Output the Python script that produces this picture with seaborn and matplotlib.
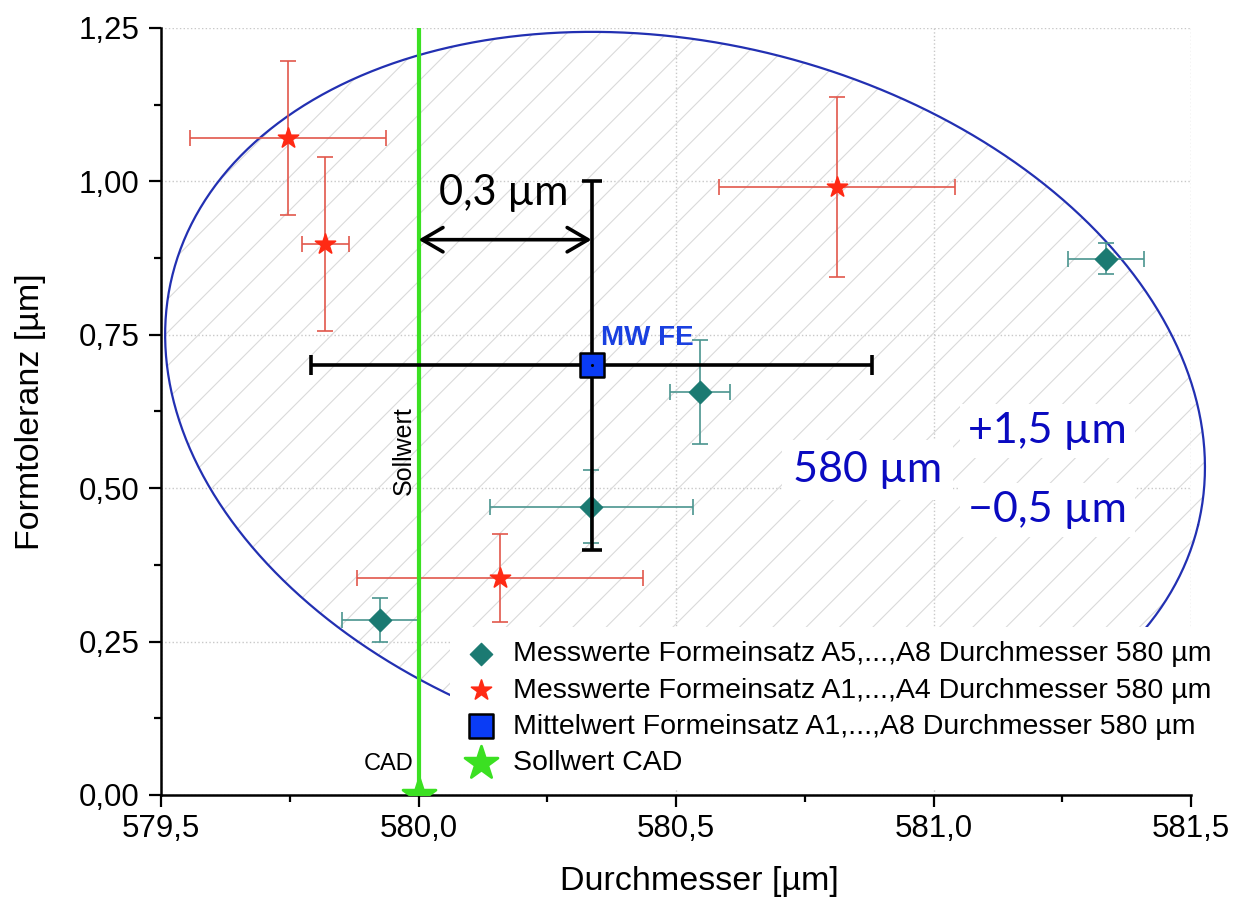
import numpy as np
import matplotlib
matplotlib.use("Agg")
import matplotlib.pyplot as plt
import seaborn as sns
from matplotlib.ticker import MultipleLocator

# Messwerte Formeinsatz A1..A4 (rote Sterne)
a14_d = [579.747, 579.819, 580.813, 580.158]
a14_f = [1.071, 0.898, 0.991, 0.354]
a14_d_err = [0.190, 0.046, 0.229, 0.277]
a14_f_err = [0.125, 0.142, 0.147, 0.072]

# Messwerte Formeinsatz A5..A8 (Rauten)
a58_d = [581.335, 580.546, 580.335, 579.926]
a58_f = [0.874, 0.657, 0.470, 0.285]
a58_d_err = [0.073, 0.058, 0.197, 0.074]
a58_f_err = [0.025, 0.085, 0.060, 0.036]

# Mittelwert A1..A8 und Sollwert
mw_d, mw_f = 580.336, 0.700
mw_d_err, mw_f_err = 0.545, 0.300
soll_d = 580.0
arrow_y = 0.905

x_ticks = [579.5, 580.0, 580.5, 581.0, 581.5]
x_labels = ['579,5', '580,0', '580,5', '581,0', '581,5']
y_ticks = [0.0, 0.25, 0.5, 0.75, 1.0, 1.25]
y_labels = ['0,00', '0,25', '0,50', '0,75', '1,00', '1,25']

# Toleranzellipse: Mittelpunkt und konjugierte Halbmesser
ell_c = (580.5175, 0.6421)
ell_p = (0.9963, -0.2022)
ell_q = (-0.1632, -0.5666)

teal = '#1b7a72'
teal_bar = '#4a958f'
red = '#ff2a14'
red_bar = '#e2574c'
green = '#3be022'

sns.set_style('ticks')
plt.rcParams['font.family'] = ['Liberation Sans', 'DejaVu Sans']
plt.rcParams['hatch.linewidth'] = 0.8
for k in ['text.color', 'axes.labelcolor', 'xtick.color', 'ytick.color']:
    plt.rcParams[k] = 'black'

fig, ax = plt.subplots(figsize=(12.36, 9.18), dpi=100)
fig.subplots_adjust(left=0.1303, right=0.9636, bottom=0.134, top=0.9695)

# ellipse
t = np.linspace(0, 2 * np.pi, 500)
ex = ell_c[0] + ell_p[0] * np.cos(t) + ell_q[0] * np.sin(t)
ey = ell_c[1] + ell_p[1] * np.cos(t) + ell_q[1] * np.sin(t)
ax.fill(ex, ey, facecolor='none', edgecolor='#dadada', hatch='/', lw=0, zorder=1, clip_on=False)
ax.plot(ex, ey, color='#2230b2', lw=1.6, zorder=2, clip_on=False)

# Sollwert
ax.axvline(soll_d, color=green, lw=3, zorder=6)
sns.scatterplot(x=[soll_d], y=[0.0], marker='*', s=620, color=green, edgecolor=green,
                zorder=7, ax=ax, label='Sollwert CAD', legend=False)

# Messwerte
ax.errorbar(a14_d, a14_f, xerr=a14_d_err, yerr=a14_f_err, fmt='none', ecolor=red_bar,
            elinewidth=1.2, capsize=6, capthick=1.2, zorder=4)
ax.errorbar(a58_d, a58_f, xerr=a58_d_err, yerr=a58_f_err, fmt='none', ecolor=teal_bar,
            elinewidth=1.2, capsize=6, capthick=1.2, zorder=4)
sns.scatterplot(x=a58_d, y=a58_f, marker='D', s=130, color=teal, edgecolor=teal, zorder=5, ax=ax,
                label='Messwerte Formeinsatz A5,...,A8 Durchmesser 580 µm', legend=False)
sns.scatterplot(x=a14_d, y=a14_f, marker='*', s=230, color=red, edgecolor=red, zorder=5, ax=ax,
                label='Messwerte Formeinsatz A1,...,A4 Durchmesser 580 µm', legend=False)

# Mittelwert
ax.errorbar([mw_d], [mw_f], xerr=[mw_d_err], yerr=[mw_f_err], fmt='none', ecolor='black',
            elinewidth=2.6, capsize=7, capthick=2.6, zorder=8)
sns.scatterplot(x=[mw_d], y=[mw_f], marker='s', s=320, color='#0a3cf5', edgecolor='black',
                linewidth=1.8, zorder=9, ax=ax,
                label='Mittelwert Formeinsatz A1,...,A8 Durchmesser 580 µm', legend=False)
ax.scatter([mw_d], [mw_f], marker='.', s=6, color='black', zorder=10)

ax.annotate('', xy=(soll_d, arrow_y), xytext=(mw_d, arrow_y),
            arrowprops=dict(arrowstyle='<->,head_length=0.6,head_width=0.35', lw=2.6,
                            color='black', shrinkA=0, shrinkB=0, mutation_scale=25),
            zorder=9)

calibri = ['Lato', 'DejaVu Sans']
ax.text(580.04, 0.962, '0,3 µm', fontsize=30, family=calibri, color='black', zorder=10)
ax.text(580.354, 0.733, 'MW FE', fontsize=20, fontweight='bold', color='#1a40e0', zorder=10)
ax.text(580.727, 0.510, '580 µm', fontsize=31, family=calibri, color='#0a0ac0', zorder=10,
        bbox=dict(facecolor='white', edgecolor='none', pad=8))
ax.text(581.067, 0.574, '+1,5 µm', fontsize=31, family=calibri, color='#0a0ac0', zorder=10,
        bbox=dict(facecolor='white', edgecolor='none', pad=6))
ax.text(581.067, 0.445, '\u22120,5 µm', fontsize=31, family=calibri, color='#0a0ac0', zorder=10,
        bbox=dict(facecolor='white', edgecolor='none', pad=6))
ax.text(579.972, 0.561, 'Sollwert', fontsize=18, rotation=90, ha='center', va='center', zorder=10)
ax.text(579.99, 0.04, 'CAD', fontsize=17, ha='right', va='baseline', zorder=10)

# axes
ax.set_xlim(579.5, 581.5)
ax.set_ylim(0, 1.25)
ax.set_xticks(x_ticks)
ax.set_xticklabels(x_labels)
ax.set_yticks(y_ticks)
ax.set_yticklabels(y_labels)
ax.xaxis.set_minor_locator(MultipleLocator(0.25))
ax.yaxis.set_minor_locator(MultipleLocator(0.125))
ax.tick_params(which='major', length=8.5, width=1.6, labelsize=22.5, pad=5, color='black')
ax.tick_params(which='minor', length=5, width=1.6, color='black')
ax.tick_params(axis='y', pad=7)
ax.grid(True, which='major', ls=':', color='#c8c8c8', lw=1.0)
sns.despine(ax=ax)
for s in ['left', 'bottom']:
    ax.spines[s].set_linewidth(1.8)
    ax.spines[s].set_color('black')
ax.set_xlabel('Durchmesser [µm]', fontsize=24.5)
ax.set_ylabel('Formtoleranz [µm]', fontsize=24.5)
ax.xaxis.set_label_coords(0.523, -0.092)
ax.yaxis.set_label_coords(-0.112, 0.5)

handles, labels = ax.get_legend_handles_labels()
order = [labels.index(l) for l in [
    'Messwerte Formeinsatz A5,...,A8 Durchmesser 580 µm',
    'Messwerte Formeinsatz A1,...,A4 Durchmesser 580 µm',
    'Mittelwert Formeinsatz A1,...,A8 Durchmesser 580 µm',
    'Sollwert CAD']]
leg = ax.legend([handles[i] for i in order], [labels[i] for i in order],
                loc='upper left', bbox_to_anchor=(0.2806, 0.219), borderaxespad=0,
                fontsize=20.5, labelspacing=0.36, handletextpad=0.5, handlelength=1.2,
                borderpad=0.5, frameon=True, facecolor='white', edgecolor='none', framealpha=1,
                fancybox=False)
leg.set_zorder(12)

fig.savefig('out.png', dpi=100)
